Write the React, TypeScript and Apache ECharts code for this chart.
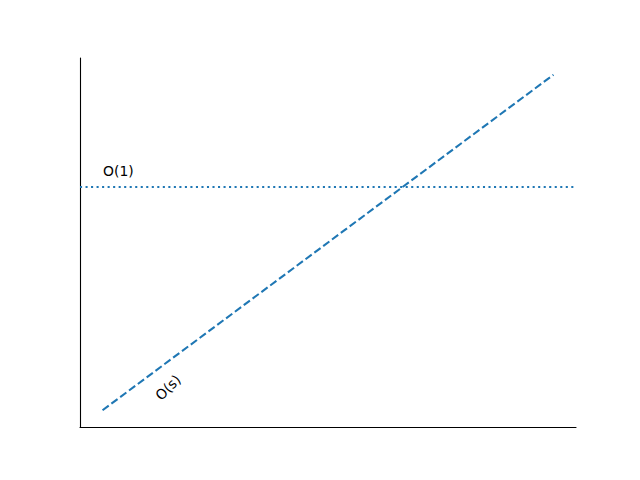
import React, { useEffect, useRef } from "react";
import * as echarts from "echarts";

const sValues = [0, 3];
const linearValues = [0, 3];
const constantLevel = 2;
const labelLinear = "O(s)";
const labelConstant = "O(1)";

export default function App() {
  const ref = useRef<HTMLDivElement>(null);
  useEffect(() => {
    if (!ref.current) return;
    const chart = echarts.init(ref.current, undefined, { renderer: "svg" });
    const color = "#1f77b4";
    chart.setOption({
      animation: false,
      grid: { left: 80, top: 58, right: 64, bottom: 53 },
      xAxis: {
        type: "value",
        min: -0.15,
        max: 3.15,
        axisLine: { show: true, onZero: false, lineStyle: { color: "#000", width: 1.1 } },
        axisTick: { show: false },
        axisLabel: { show: false },
        splitLine: { show: false },
      },
      yAxis: {
        type: "value",
        min: -0.15,
        max: 3.15,
        axisLine: { show: true, onZero: false, lineStyle: { color: "#000", width: 1.1 } },
        axisTick: { show: false },
        axisLabel: { show: false },
        splitLine: { show: false },
      },
      series: [
        {
          type: "line",
          data: sValues.map((s, i) => [s, linearValues[i]]),
          showSymbol: false,
          lineStyle: { color, width: 2.08, type: [7.7, 3.3] },
          silent: true,
        },
        {
          type: "line",
          data: [],
          markLine: {
            silent: true,
            symbol: "none",
            label: { show: false },
            lineStyle: { color, width: 2.08, type: [2.08, 3.44] },
            data: [{ yAxis: constantLevel }],
          },
        },
      ],
    });
    const p1 = chart.convertToPixel({ gridIndex: 0 }, [0, 2.1]) as number[];
    chart.setOption({
      graphic: [
        {
          type: "text",
          x: p1[0] + 0.5,
          y: p1[1] + 3,
          style: {
            text: labelConstant,
            fill: "#000",
            font: "13.9px 'DejaVu Sans'",
            align: "left",
            verticalAlign: "bottom",
          },
        },
        {
          type: "text",
          x: 168,
          y: 387.5,
          rotation: (45 * Math.PI) / 180,
          style: {
            text: labelLinear,
            fill: "#000",
            font: "13.9px 'DejaVu Sans'",
            align: "center",
            verticalAlign: "middle",
          },
        },
      ],
    });
    return () => chart.dispose();
  }, []);
  return (
    <div
      ref={ref}
      style={{ position: "fixed", left: 0, top: 0, width: 640, height: 480, background: "#fff" }}
    />
  );
}
